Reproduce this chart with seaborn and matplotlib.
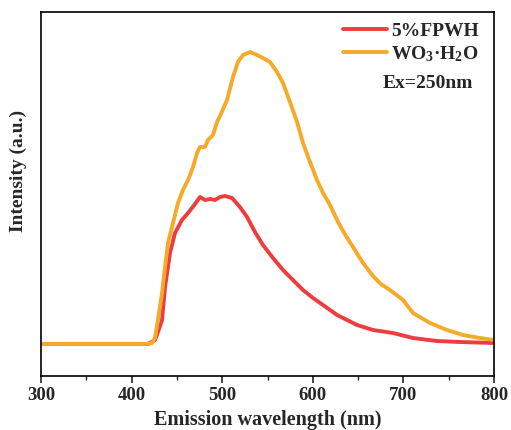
import matplotlib
matplotlib.use("Agg")
import matplotlib.pyplot as plt
import seaborn as sns
import numpy as np

# Emission spectra (excitation 250 nm), arbitrary intensity units
fpwh_nm = [300, 418.1, 425.8, 429.1, 433.6, 436.9, 442.4, 447.9, 455.6, 462.3,
           470.0, 475.5, 481.0, 486.5, 492.1, 497.6, 503.1, 510.8, 519.6, 527.4,
           536.2, 545.0, 556.1, 567.1, 578.1, 589.2, 600.2, 611.3, 626.8, 648.8,
           666.4, 688.5, 710.6, 737.1, 762.5, 800]
fpwh_int = [0, 0, 4, 12, 24, 57, 91, 111, 124, 131,
            140, 147, 144, 145, 144, 147, 148, 146, 137, 127,
            112, 99, 86, 74, 64, 54, 46, 39, 29, 19,
            14, 11, 6, 3, 2, 1]

wo3_nm = [300, 414.8, 422.5, 425.8, 429.1, 433.6, 436.9, 440.2, 445.7, 451.2,
          456.7, 462.3, 467.8, 472.2, 475.5, 481.0, 484.3, 489.8, 494.3, 497.6,
          505.3, 511.9, 517.4, 523.0, 530.7, 538.4, 545.0, 552.8, 560.5, 567.1,
          574.8, 582.6, 589.2, 596.9, 604.6, 611.3, 619.0, 627.8, 636.0, 644.4,
          655.4, 666.4, 675.0, 685.2, 699.6, 710.6, 729.4, 748.1, 765.8, 784.5, 800]
wo3_int = [0, 0, 1, 6, 24, 51, 77, 101, 121, 141,
           154, 164, 177, 191, 197, 197, 204, 209, 222, 228,
           244, 267, 282, 289, 292, 289, 286, 282, 272, 261,
           242, 222, 201, 182, 164, 151, 139, 122, 109, 97,
           81, 68, 60, 54, 44, 31, 21, 14, 9, 6, 4]

series_labels = ["5%FPWH", "WO$_3$·H$_2$O"]
x_ticks = [300, 400, 500, 600, 700, 800]

sns.set_style("ticks")
plt.rcParams["font.family"] = ["Liberation Serif", "DejaVu Serif"]
plt.rcParams["font.weight"] = "bold"
plt.rcParams["mathtext.fontset"] = "custom"
plt.rcParams["mathtext.rm"] = "Liberation Serif:bold"
plt.rcParams["mathtext.bf"] = "Liberation Serif:bold"
plt.rcParams["mathtext.it"] = "Liberation Serif:bold"
plt.rcParams["mathtext.default"] = "bf"

fig = plt.figure(figsize=(5.11, 4.30), dpi=100)
ax = fig.add_axes([41 / 511, 1 - 376 / 430, 453 / 511, 364 / 430])

sns.lineplot(x=fpwh_nm, y=fpwh_int, ax=ax, color="#ee3c3f", lw=2.8,
             label=series_labels[0])
sns.lineplot(x=wo3_nm, y=wo3_int, ax=ax, color="#f6aa2a", lw=2.8,
             label=series_labels[1])

ax.set_xlim(300, 800)
ax.set_ylim(-32, 332)
ax.set_xticks(x_ticks)
ax.set_xticks(np.arange(350, 800, 100), minor=True)
ax.set_xticklabels([str(t) for t in x_ticks], fontsize=13.5, fontweight="bold")
ax.set_yticks([])
ax.tick_params(axis="x", which="major", direction="out", length=5, width=1.2,
               pad=3, top=False)
ax.tick_params(axis="x", which="minor", direction="out", length=3, width=1.0,
               top=False)
for sp in ax.spines.values():
    sp.set_visible(True)
    sp.set_linewidth(1.2)
    sp.set_color("black")

ax.set_xlabel("Emission wavelength (nm)", fontsize=14.5, fontweight="bold",
              labelpad=4)
ax.set_ylabel("Intensity (a.u.)", fontsize=14, fontweight="bold")
ax.yaxis.set_label_coords(-0.031, 0.563)

leg = ax.legend(loc="upper left", bbox_to_anchor=(291 / 453, 1.0), frameon=False,
                prop={"family": "Liberation Serif", "weight": "bold", "size": 14},
                handlelength=2.3, handletextpad=0.2, labelspacing=0.2,
                borderaxespad=0.25, borderpad=0.3)
ax.text(432 / 453, (376 - 83) / 364, "Ex=250nm", transform=ax.transAxes,
        ha="right", va="center", fontsize=14, fontweight="bold")

fig.savefig("out.png", dpi=100)
